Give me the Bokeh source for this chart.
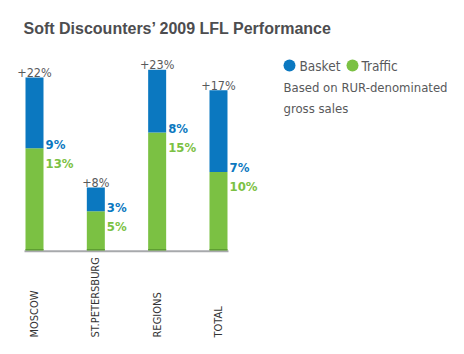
import math
from bokeh.plotting import figure
from bokeh.models import ColumnDataSource, Range1d, Label
from bokeh.core.properties import value
from bokeh.embed import file_html
from bokeh.resources import INLINE

# ---- data ----
categories = ["MOSCOW", "ST.PETERSBURG", "REGIONS", "TOTAL"]
traffic = [13, 5, 15, 10]
basket = [9, 3, 8, 7]
total = [22, 8, 23, 17]
# drawn basket segment heights (TOTAL drawn taller than its label)
basket_drawn = [9, 3, 8, 10.4]
traffic_labels = ["13%", "5%", "15%", "10%"]
basket_labels = ["9%", "3%", "8%", "7%"]
total_labels = ["+22%", "+8%", "+23%", "+17%"]

# ---- layout constants (pixels) ----
W, H = 464, 354
X0, DX = 34.0, 61.33      # first bar centre, spacing
BASE = 250.0              # baseline from top
SC = 7.86                 # px per percent
BAR_W = 18.0 / DX

BLUE = "#0b78c0"
GREEN = "#7bc143"
DGREEN = "#5e9e32"
GRAY = "#58595b"
NARROW = "DejaVu Sans Condensed, Roboto, sans-serif"
FONT = "Liberation Sans"

p = figure(width=W, height=H, output_backend="svg", toolbar_location=None,
           x_range=Range1d(-X0 / DX, (W - X0) / DX),
           y_range=Range1d(-(H - BASE) / SC, BASE / SC),
           min_border=0)
p.axis.visible = False
p.xgrid.visible = False
p.ygrid.visible = False
p.outline_line_color = None
p.background_fill_color = "white"

xs = list(range(len(categories)))
tops = [t + b for t, b in zip(traffic, basket_drawn)]
src = ColumnDataSource(dict(x=xs, traffic=traffic, top=tops, cat=categories,
                            tl=traffic_labels, bl=basket_labels, tot=total_labels,
                            caty=[-(337 - BASE) / SC] * len(xs)))

p.vbar(x="x", bottom=0, top="traffic", width=BAR_W, fill_color=GREEN, line_color=None, source=src)
p.vbar(x="x", bottom="traffic", top="top", width=BAR_W, fill_color=BLUE, line_color=None, source=src)

# baseline
p.segment(x0=[-BAR_W / 2 - 1 / DX], y0=[-0.1], x1=[xs[-1] + BAR_W / 2 + 1 / DX], y1=[-0.1],
          line_color="#a7a9ac", line_width=2)
p.segment(x0=[x - BAR_W / 2 for x in xs], y0=[0.1] * 4, x1=[x + BAR_W / 2 for x in xs], y1=[0.1] * 4,
          line_color=DGREEN, line_width=1.5)

# total labels
p.text(x="x", y="top", text="tot", source=src, text_align="center", text_baseline="alphabetic",
       y_offset=-5, text_font=value(NARROW), text_font_size="12.5px", text_color=GRAY)
# segment labels
p.text(x="x", y="traffic", text="bl", source=src, text_align="left", text_baseline="alphabetic",
       x_offset=11, y_offset=-4, text_font=value(NARROW), text_font_style="bold",
       text_font_size="13px", text_color=BLUE)
p.text(x="x", y="traffic", text="tl", source=src, text_align="left", text_baseline="alphabetic",
       x_offset=11, y_offset=15, text_font=value(NARROW), text_font_style="bold",
       text_font_size="13px", text_color=GREEN)
# category labels
p.text(x="x", y="caty", text="cat", source=src, angle=math.pi / 2, text_align="left",
       text_baseline="middle", text_font=value(NARROW), text_font_size="11px", text_color="#333333")

# legend markers
p.scatter(x=[(289 - X0) / DX, (352 - X0) / DX], y=[(BASE - 65) / SC] * 2, size=12,
          fill_color=[BLUE, GREEN], line_color=None)

def lab(txt, x, ytop, size, color=GRAY, font=NARROW, style="normal", baseline="middle"):
    p.add_layout(Label(x=x, y=H - ytop, x_units="screen", y_units="screen", text=txt,
                       text_font=font, text_font_size=size, text_font_style=style,
                       text_color=color, text_baseline=baseline))

lab("Soft Discounters\u2019 2009 LFL Performance", 23, 28, "16px", color="#4d4d4f", font=FONT,
    style="bold", baseline="alphabetic")
lab("Basket", 299, 65, "13.5px")
lab("Traffic", 361, 65, "13.5px")
lab("Based on RUR-denominated", 283, 87, "13px")
lab("gross sales", 283, 108, "13px")

open("out.html", "w").write(file_html(p, INLINE))
